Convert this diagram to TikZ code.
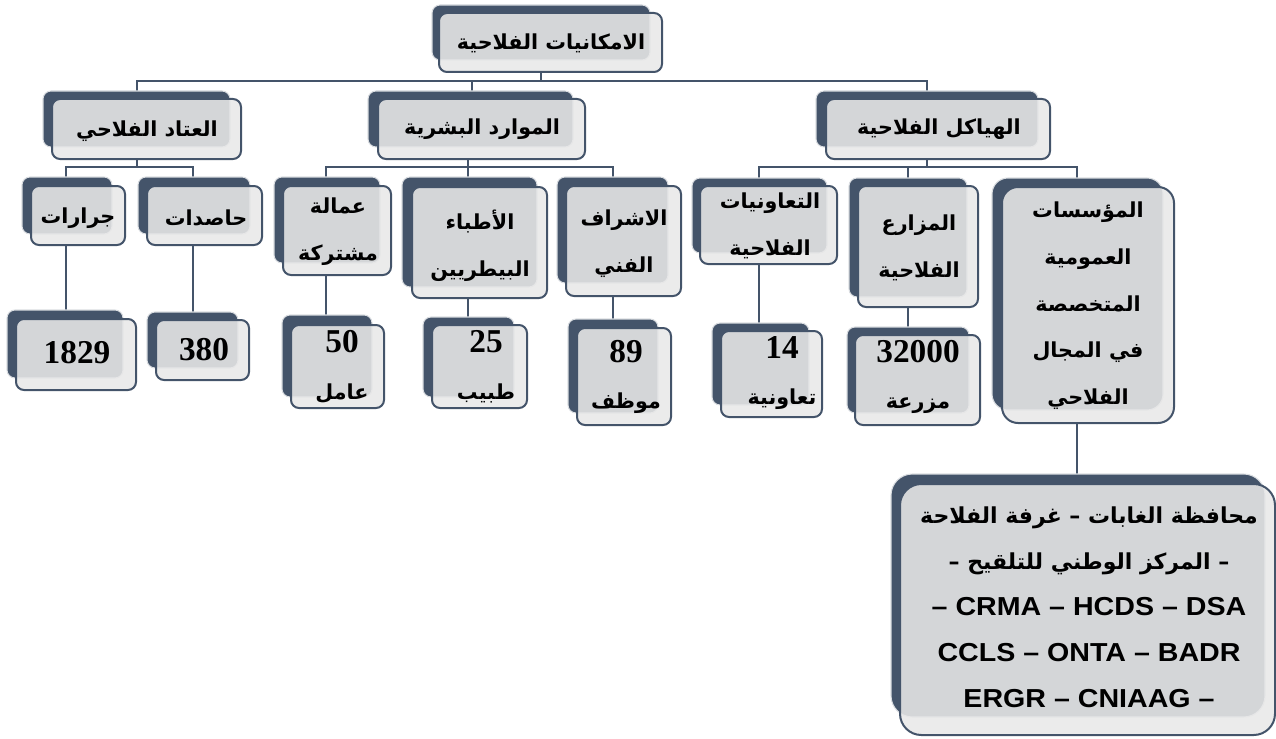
\documentclass[tikz,border=0pt]{standalone}
\usepackage{fontspec}
\setmainfont{Liberation Serif}
\newfontfamily\arabicfont[Script=Arabic]{DejaVu Sans}
\newfontfamily\latinsans[FakeStretch=1.1]{Liberation Sans}
\TeXXeTstate=1
\usetikzlibrary{fit,backgrounds}
\definecolor{slate}{HTML}{44546A}
\definecolor{paper}{HTML}{E8E8E8}
\tikzset{
  backbox/.style={fill=slate, draw=white!80!slate, line width=0.8pt, rounded corners=#1},
  frontbox/.style={fill=paper, fill opacity=0.88, draw=slate, line width=1.5pt, rounded corners=#1, inner sep=0pt},
  conn/.style={draw=slate, line width=1.6pt},
  lbl/.style={text=black, align=center, inner sep=0pt, font=\arabicfont\bfseries\fontsize{15.5}{35}\selectfont},
  numlbl/.style={text=black, align=center, inner sep=0pt, font=\bfseries\fontsize{25}{35}\selectfont},
  biglbl/.style={text=black, align=center, inner sep=0pt, font=\bfseries\fontsize{16.5}{34.5}\selectfont},
}
\newcommand\obox[6][6]{%
  \path[backbox=#1] #3 rectangle #4;
  \node[frontbox=#1, fit={#5 #6}] (#2) {};
}
\newcommand\AR[1]{{\arabicfont\beginR #1\endR}}
\newcommand\ARs[1]{{\arabicfont\fontsize{15.5}{35}\selectfont\beginR #1\endR}}
\begin{document}
\begin{tikzpicture}[x=0.75pt,y=-0.75pt]
\useasboundingbox (0,0) rectangle (1276,738);

% boxes
\obox{top}{(432,5)}{(650,60)}{(439,13)}{(662,72)}
\obox{eq}{(43,91)}{(230,147)}{(52,99)}{(241,159)}
\obox{hr}{(368,91)}{(573,147)}{(378,99)}{(585,159)}
\obox{st}{(816,91)}{(1038,147)}{(826,99)}{(1050,159)}
\obox{tr}{(22,177)}{(112,234)}{(31,186)}{(125,245)}
\obox{hv}{(138,177)}{(250,234)}{(147,186)}{(262,245)}
\obox{n1829}{(7,310)}{(123,378)}{(16,319)}{(136,390)}
\obox{n380}{(147,312)}{(238,368)}{(156,320)}{(249,380)}
\obox{lab}{(274,177)}{(380,263)}{(283,186)}{(391,275)}
\obox{vet}{(402,177)}{(537,287)}{(412,187)}{(547,298)}
\obox{sup}{(557,177)}{(668,283)}{(566,186)}{(681,296)}
\obox{n50}{(282,315)}{(372,397)}{(291,325)}{(384,408)}
\obox{n25}{(423,317)}{(514,397)}{(432,325)}{(527,408)}
\obox{n89}{(568,319)}{(658,413)}{(577,328)}{(671,425)}
\obox{coop}{(692,178)}{(827,253)}{(700,186)}{(837,264)}
\obox{farm}{(849,178)}{(967,297)}{(858,186)}{(978,307)}
\obox[12]{inst}{(992,178)}{(1163,410)}{(1002,187)}{(1174,423)}
\obox{n14}{(712,323)}{(809,405)}{(721,331)}{(822,417)}
\obox{n32k}{(847,327)}{(969,413)}{(855,335)}{(980,425)}
\obox[16]{big}{(891,474)}{(1265,717)}{(900,484)}{(1275,735)}

% junctions
\coordinate (j0) at (541,81);
\coordinate (m1) at (137,81);
\coordinate (m2) at (472,81);
\coordinate (m3) at (927,81);
\coordinate (a0) at (137,167);
\coordinate (a1) at (66,167);
\coordinate (a2) at (193,167);
\coordinate (b0) at (468,167);
\coordinate (b1) at (326,167);
\coordinate (b2) at (613,167);
\coordinate (c0) at (927,167);
\coordinate (c1) at (759,167);
\coordinate (c2) at (908,167);
\coordinate (c3) at (1077,167);

\begin{scope}[on background layer]
  \draw[conn] (top.south -| j0) -- (j0);
  \draw[conn] (eq.north -| m1) -- (m1) -- (m3) -- (st.north -| m3);
  \draw[conn] (m2) -- (hr.north -| m2);
  \draw[conn] (eq.south -| a0) -- (a0);
  \draw[conn] (tr.north -| a1) -- (a1) -- (a2) -- (hv.north -| a2);
  \draw[conn] (hr.south -| b0) -- (b0);
  \draw[conn] (lab.north -| b1) -- (b1) -- (b2) -- (sup.north -| b2);
  \draw[conn] (b0) -- (vet.north -| b0);
  \draw[conn] (st.south -| c0) -- (c0);
  \draw[conn] (coop.north -| c1) -- (c1) -- (c3) -- (inst.north -| c3);
  \draw[conn] (c2) -- (farm.north -| c2);
  \draw[conn] (tr.south -| a1) -- (n1829.north -| a1);
  \draw[conn] (hv.south -| a2) -- (n380.north -| a2);
  \draw[conn] (lab.south -| b1) -- (n50.north -| b1);
  \draw[conn] (vet.south -| b0) -- (n25.north -| b0);
  \draw[conn] (sup.south -| b2) -- (n89.north -| b2);
  \draw[conn] (coop.south -| c1) -- (n14.north -| c1);
  \draw[conn] (farm.south -| c2) -- (n32k.north -| c2);
  \draw[conn] (inst.south -| c3) -- (big.north -| c3);
\end{scope}

% texts
\node[lbl] (ttop) at (551,43) {\AR{الامكانيات الفلاحية}};
\node[lbl] (teq) at (147,131) {\AR{العتاد الفلاحي}};
\node[lbl] (thr) at (482,129) {\AR{الموارد البشرية}};
\node[lbl] (tst) at (939,129) {\AR{الهياكل الفلاحية}};
\node[lbl] (ttr) at (78,218) {\AR{جرارات}};
\node[lbl] (thv) at (206,218) {\AR{حاصدات}};
\node[lbl] (tlab) at (338,232) {\AR{عمالة}\\\AR{مشتركة}};
\node[lbl] (tvet) at (480,246) {\AR{الأطباء}\\\AR{البيطريين}};
\node[lbl] (tsup) at (624,244) {\AR{الاشراف}\\\AR{الفني}};
\node[lbl] (tcoop) at (770,226) {\AR{التعاونيات}\\\AR{الفلاحية}};
\node[lbl] (tfarm) at (919,248) {\AR{المزارع}\\\AR{الفلاحية}};
\node[lbl] (tinst) at (1088,306) {\AR{المؤسسات}\\\AR{العمومية}\\\AR{المتخصصة}\\\AR{في المجال}\\\AR{الفلاحي}};
\node[numlbl] (t1829) at (77,353) {1829};
\node[numlbl] (t380) at (204,350) {380};
\node[numlbl] (t50) at (342,367) {50\\\ARs{عامل}};
\node[numlbl] (t25) at (486,367) {25\\\ARs{طبيب}};
\node[numlbl] (t89) at (626,377) {89\\\ARs{موظف}};
\node[numlbl] (t14) at (782,373) {14\\\ARs{تعاونية}};
\node[numlbl] (t32k) at (918,377) {32000\\\ARs{مزرعة}};
\node[biglbl] (tbig) at (1089,607) {\AR{محافظة الغابات – غرفة الفلاحة}\\\AR{– المركز الوطني للتلقيح –}\\{\latinsans\fontsize{19.5}{34.5}\selectfont – CRMA – HCDS – DSA}\\{\latinsans\fontsize{19.5}{34.5}\selectfont CCLS – ONTA – BADR}\\{\latinsans\fontsize{19.5}{34.5}\selectfont ERGR – CNIAAG –}};
\end{tikzpicture}
\end{document}
